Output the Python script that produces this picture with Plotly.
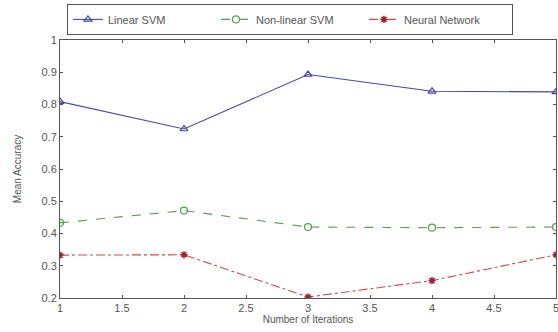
import plotly.graph_objects as go

iterations = [1, 2, 3, 4, 5]
linear_svm = [0.809, 0.724, 0.893, 0.841, 0.839]
nonlinear_svm = [0.433, 0.471, 0.420, 0.418, 0.420]
neural_net = [0.333, 0.334, 0.203, 0.254, 0.334]

x_ticks = [1, 1.5, 2, 2.5, 3, 3.5, 4, 4.5, 5]
x_tick_text = ["1", "1.5", "2", "2.5", "3", "3.5", "4", "4.5", "5"]
y_ticks = [0.2, 0.3, 0.4, 0.5, 0.6, 0.7, 0.8, 0.9, 1.0]
y_tick_text = ["0.2", "0.3", "0.4", "0.5", "0.6", "0.7", "0.8", "0.9", "1"]

fig = go.Figure()
fig.add_trace(go.Scatter(
    x=iterations, y=linear_svm, name="Linear SVM", mode="lines+markers",
    line=dict(color="#4646a8", width=1.1),
    marker=dict(symbol="triangle-up-open", size=7, color="#4646a8", line=dict(width=1.2)),
))
fig.add_trace(go.Scatter(
    x=iterations, y=nonlinear_svm, name="Non-linear SVM", mode="lines+markers",
    line=dict(color="#5a9a5a", width=1.1, dash="dash"),
    marker=dict(symbol="circle-open", size=7, color="#5a9a5a", line=dict(width=1.2)),
))
fig.add_trace(go.Scatter(
    x=iterations, y=neural_net, name="Neural Network", mode="lines+markers",
    line=dict(color="#d84848", width=1.1, dash="dashdot"),
    marker=dict(symbol="asterisk-open", size=6, color="#a02030", line=dict(width=1.5)),
))

axis_common = dict(
    showgrid=False, zeroline=False, showline=True, linecolor="#555555", linewidth=1,
    mirror="ticks", ticks="inside", ticklen=3, tickcolor="#555555",
    tickfont=dict(family="Liberation Sans, Arial", size=11, color="#555555"),
    ticklabeloverflow="allow",
)
fig.update_xaxes(
    range=[1, 5], tickvals=x_ticks, ticktext=x_tick_text,
    title=dict(text="Number of Iterations", font=dict(family="Liberation Sans, Arial", size=10, color="#555555"), standoff=1),
    **axis_common,
)
fig.update_yaxes(
    range=[0.2, 1.0], tickvals=y_ticks, ticktext=y_tick_text,
    title=dict(text="Mean Accuracy", font=dict(family="Liberation Sans, Arial", size=10, color="#555555"), standoff=18),
    **axis_common,
)
fig.update_layout(
    width=558, height=332,
    margin=dict(l=60, r=2, t=40, b=34, autoexpand=False),
    paper_bgcolor="white", plot_bgcolor="white",
    showlegend=True,
    legend=dict(
        orientation="h", x=0.014, xanchor="left", y=1.14, yanchor="top",
        bordercolor="#555555", borderwidth=1, bgcolor="white",
        font=dict(family="Liberation Sans, Arial", size=11, color="#555555"),
        entrywidth=103, entrywidthmode="pixels", tracegroupgap=0,
    ),
)
fig.write_html("out.html")
